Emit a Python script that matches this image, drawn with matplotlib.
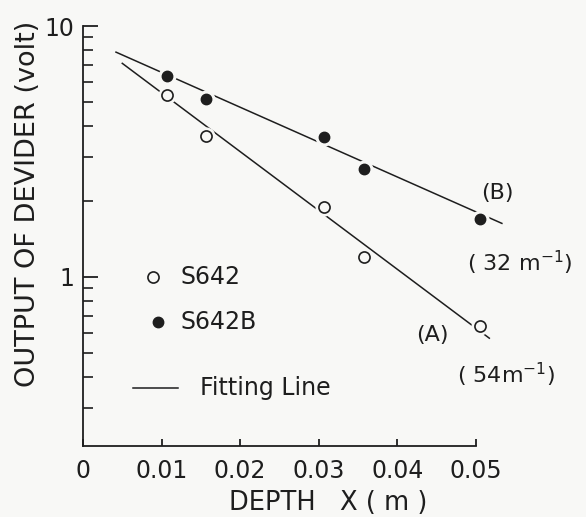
import numpy as np
import matplotlib
matplotlib.use("Agg")
import matplotlib.pyplot as plt

# measured points
depth = [0.0107, 0.0156, 0.0307, 0.0357, 0.0505]
s642 = [5.3, 3.65, 1.9, 1.2, 0.64]
s642b = [6.3, 5.1, 3.6, 2.7, 1.7]

# fitting lines V = V0 * exp(-k x)
fit_k = [54, 32]
fit_v0 = [9.3, 9.0]
fit_x0 = [0.0050, 0.0042]
fit_x1 = [0.0517, 0.0533]

bg = "#f8f8f6"
ink = "#1e1e1e"

plt.rcParams["font.family"] = "DejaVu Sans"
fig = plt.figure(figsize=(5.86, 5.17), dpi=100, facecolor=bg)
ax = fig.add_axes([0.1416, 0.1373, 0.6706, 0.8124], facecolor=bg)

for k, v0, a, b in zip(fit_k, fit_v0, fit_x0, fit_x1):
    xx = np.linspace(a, b, 50)
    ax.plot(xx, v0 * np.exp(-k * xx), color=ink, lw=1.1, clip_on=False, zorder=2)

# white halo so the line breaks around each marker
ax.plot(depth, s642, "o", ms=12, mfc=bg, mec=bg, ls="none", zorder=3, clip_on=False)
ax.plot(depth, s642b, "o", ms=12, mfc=bg, mec=bg, ls="none", zorder=3, clip_on=False)
ax.plot(depth, s642, "o", ms=8, mfc=bg, mec=ink, mew=1.2, ls="none", zorder=4, clip_on=False)
ax.plot(depth, s642b, "o", ms=7.5, mfc=ink, mec=ink, ls="none", zorder=4, clip_on=False)

ax.set_yscale("log")
ax.set_xlim(0, 0.05)
ax.set_ylim(0.212, 10)
ax.set_xticks([0, 0.01, 0.02, 0.03, 0.04, 0.05])
ax.set_xticklabels(["0", "0.01", "0.02", "0.03", "0.04", "0.05"])
ax.set_yticks([1, 10])
ax.set_yticklabels(["1", "10"])
ax.spines["top"].set_visible(False)
ax.spines["right"].set_visible(False)
for s in ("left", "bottom"):
    ax.spines[s].set_linewidth(1.3)
    ax.spines[s].set_color(ink)
ax.tick_params(axis="y", which="major", direction="in", length=11, width=1.3,
               labelsize=17, pad=6, colors=ink)
ax.tick_params(axis="y", which="minor", direction="in", length=7, width=1.2, colors=ink)
ax.tick_params(axis="x", which="major", direction="in", length=5, width=1.3,
               labelsize=17, pad=9, colors=ink)

fig.text(0.56, 0.027, "DEPTH   X ( m )", ha="center", va="center", fontsize=18.5, color=ink)
fig.text(0.048, 0.605, "OUTPUT OF DEVIDER (volt)", ha="center", va="center",
         rotation=90, fontsize=19.5, color=ink)

# legend drawn by hand
ax.plot([0.178], [0.402], "o", ms=8, mfc=bg, mec=ink, mew=1.2, transform=ax.transAxes)
ax.plot([0.191], [0.295], "o", ms=7.5, mfc=ink, mec=ink, transform=ax.transAxes)
ax.plot([0.127, 0.242], [0.138, 0.138], color=ink, lw=1.1, transform=ax.transAxes)
ax.text(0.247, 0.402, "S642", transform=ax.transAxes, va="center", fontsize=17, color=ink)
ax.text(0.247, 0.295, "S642B", transform=ax.transAxes, va="center", fontsize=17, color=ink)
ax.text(0.298, 0.138, "Fitting Line", transform=ax.transAxes, va="center", fontsize=17, color=ink)

ax.text(0.0527, 2.16, "(B)", ha="center", va="center", fontsize=16, color=ink)
ax.text(0.0556, 1.14, "( 32 m$^{-1}$)", ha="center", va="center", fontsize=16, color=ink)
ax.text(0.0445, 0.588, "(A)", ha="center", va="center", fontsize=16, color=ink)
ax.text(0.0539, 0.407, "( 54m$^{-1}$)", ha="center", va="center", fontsize=16, color=ink)

fig.savefig("out.png", dpi=100, facecolor=bg)
